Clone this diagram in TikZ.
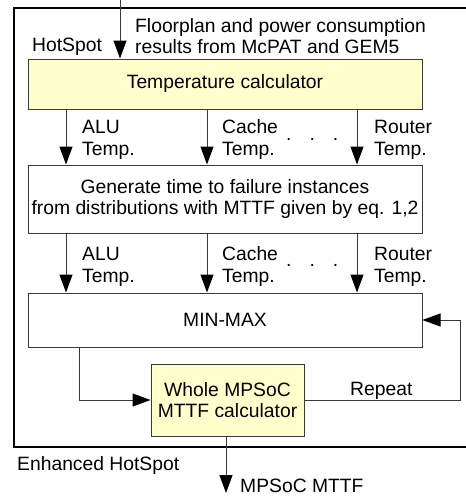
\documentclass[tikz,border=0pt]{standalone}
\usepackage{fontspec}
\setmainfont{Liberation Sans}
\usetikzlibrary{arrows.meta}
\definecolor{calcfill}{HTML}{FFFFCC}
\definecolor{linegray}{HTML}{3A3A3A}
\begin{document}
\begin{tikzpicture}[x=1pt,y=-1pt,
  font=\fontsize{19.3}{21.5}\selectfont,
  box/.style={draw=linegray,line width=1pt,rectangle,minimum width=394pt,align=center,inner sep=0pt},
  calc/.style={box,fill=calcfill},
  arr/.style={draw=linegray,line width=1pt,-{Triangle[width=13pt,length=18pt,color=black]}},
  lbl/.style={inner sep=0pt,anchor=base west,align=left},
  plain/.style={inner sep=0pt,anchor=base west}]
\useasboundingbox (0,0) rectangle (466,496);

% outer frame of the enhanced tool (runs past the right edge)
\draw[line width=2.4pt] (470,8) -- (14,8) -- (14,447) -- (470,447);

% boxes
\node[calc,minimum height=50pt] (temp) at (225,84) {Temperature calculator};
\node[box,minimum height=68pt] (gen) at (225,199)
  {Generate time to failure instances\\from distributions with MTTF given by eq. 1,2};
\node[box,minimum height=54pt] (minmax) at (225,320) {MIN-MAX};
\node[calc,minimum width=153pt,minimum height=72pt] (whole) at (227.5,400)
  {Whole MPSoC\\MTTF calculator};

% column positions
\coordinate (c1) at (66,0);
\coordinate (c2) at (207,0);
\coordinate (c3) at (357,0);
\coordinate (in) at (120,0);
\coordinate (back) at (460,0);
\coordinate (down) at (79,0);
\coordinate (out) at (226,493);

% input
\draw[arr] (in) -- (temp.north -| in);
\node[plain] (fp1) at (135,32) {Floorplan and power consumption};
\node[plain] (fp2) at (135,53) {results from McPAT and GEM5};
\node[plain] (hs) at (32,51) {HotSpot};

% temperatures into the generator
\draw[arr] (temp.south -| c1) -- (gen.north -| c1);
\draw[arr] (temp.south -| c2) -- (gen.north -| c2);
\draw[arr] (temp.south -| c3) -- (gen.north -| c3);
\node[lbl] (t1) at (82,155) {ALU\\Temp.};
\node[lbl] (t2) at (222,155) {Cache\\Temp.};
\node[lbl] (t3) at (374,155) {Router\\Temp.};
\node[plain] (d1) at (286,140) {.\hspace{18pt}.\hspace{18pt}.};

% instances into MIN-MAX
\draw[arr] (gen.south -| c1) -- (minmax.north -| c1);
\draw[arr] (gen.south -| c2) -- (minmax.north -| c2);
\draw[arr] (gen.south -| c3) -- (minmax.north -| c3);
\node[lbl] (u1) at (82,282) {ALU\\Temp.};
\node[lbl] (u2) at (222,282) {Cache\\Temp.};
\node[lbl] (u3) at (374,282) {Router\\Temp.};
\node[plain] (d2) at (286,266) {.\hspace{18pt}.\hspace{18pt}.};

% MIN-MAX to the whole-system calculator and the repeat loop
\draw[arr] (minmax.south -| down) |- (whole.west);
\draw[arr] (whole.east) -- (whole.east -| back) -- (minmax.east -| back) -- (minmax.east);
\node[plain] (rep) at (350,395) {Repeat};

% result
\draw[arr] (whole.south -| out) -- (out);
\node[plain] (res) at (240,492) {MPSoC MTTF};
\node[plain] (eh) at (17,470) {Enhanced HotSpot};
\end{tikzpicture}
\end{document}
